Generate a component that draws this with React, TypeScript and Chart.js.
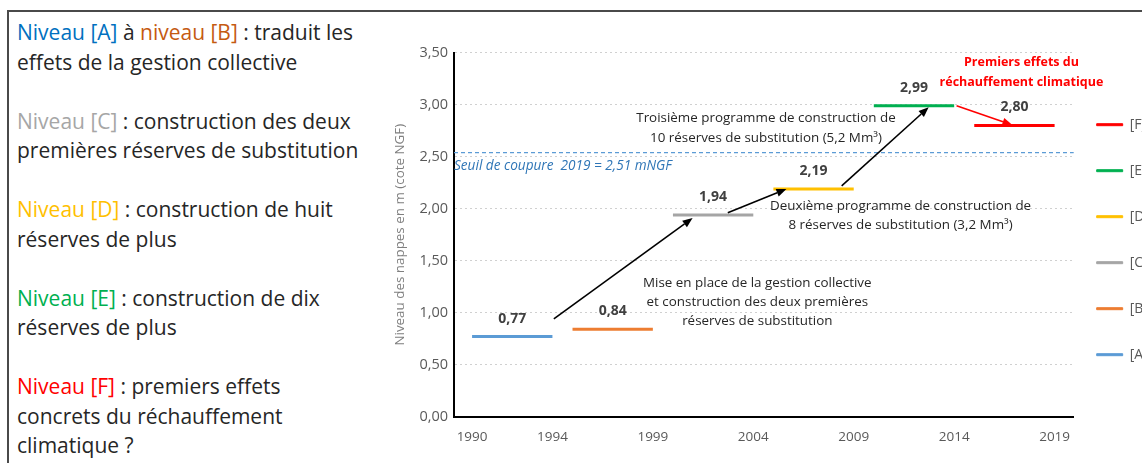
import React, { useEffect, useRef } from "react";
import { Chart, registerables } from "chart.js";

Chart.register(...registerables);

// ---------- data ----------
const levelNames = ["[A]", "[B]", "[C]", "[D]", "[E]", "[F]"];
const levelValues = [0.77, 0.84, 1.94, 2.19, 2.99, 2.8];
const startYears = [1990, 1995, 2000, 2005, 2010, 2015];
const endYears = [1994, 1999, 2004, 2009, 2014, 2019];
const levelColors = ["#5B9BD5", "#ED7D31", "#A5A5A5", "#FFC000", "#00B050", "#FF0000"];
const xTickYears = [1990, 1994, 1999, 2004, 2009, 2014, 2019];
const yMin = 0;
const yMax = 3.5;
const yStep = 0.5;
const xMin = 1989.1;
const xMax = 2019.95;

const seuilValue = 2.54;
const seuilLabel = "Seuil de coupure  2019 = 2,51 mNGF";

const arrowStartX = [1994.07, 2002.73, 2008.4, 2014.12];
const arrowStartY = [0.94, 1.96, 2.22, 2.99];
const arrowEndX = [2000.98, 2005.65, 2012.73, 2016.9];
const arrowEndY = [1.91, 2.19, 2.975, 2.805];
const arrowColors = ["#000000", "#000000", "#000000", "#FF0000"];

const noteLines = [
  ["Troisième programme de construction de", "10 réserves de substitution (5,2 Mm³)"],
  ["Deuxième programme de construction de", "8 réserves de substitution (3,2 Mm³)"],
  ["Mise en place de la gestion collective", "et construction des deux premières", "réserves de substitution"],
  ["Premiers effets du", "réchauffement climatique"],
];
const noteX = [2004.63, 2011.33, 2004.2, 2017.35];
const noteY = [2.872, 2.021, 1.283, 3.41];

const yTitle = "Niveau des nappes en m (cote NGF)";

// ---------- styles ----------
const FONT = "'Open Sans', sans-serif";
const noteStyles = [
  { font: `13.4px ${FONT}`, color: "#262626", lineGap: 20 },
  { font: `13.4px ${FONT}`, color: "#262626", lineGap: 19 },
  { font: `13.4px ${FONT}`, color: "#262626", lineGap: 19 },
  { font: `bold 12.5px ${FONT}`, color: "#FF0000", lineGap: 20 },
];

const fmt = (v: number) => v.toFixed(2).replace(".", ",");

// nudges the legend box closer to the plot and slightly lower
const legendShiftPlugin = {
  id: "legendShift",
  afterLayout(chart: any) {
    const lg = chart.legend;
    if (lg) {
      lg.left -= 9;
      lg.right -= 9;
      lg.top += 5;
      lg.bottom += 5;
    }
  },
};

const annotationPlugin = {
  id: "annotations",
  beforeDatasetsDraw(chart: any) {
    const { ctx, chartArea, scales } = chart;
    const yy = scales.y.getPixelForValue(seuilValue);
    ctx.save();
    ctx.strokeStyle = "#5B9BD5";
    ctx.lineWidth = 1.2;
    ctx.setLineDash([4, 3]);
    ctx.beginPath();
    ctx.moveTo(chartArea.left, yy);
    ctx.lineTo(chartArea.right, yy);
    ctx.stroke();
    ctx.restore();
  },
  afterDatasetsDraw(chart: any) {
    const { ctx, chartArea, scales } = chart;
    const x = scales.x;
    const y = scales.y;
    ctx.save();
    // seuil label
    ctx.font = `italic 13.6px ${FONT}`;
    ctx.fillStyle = "#2E75B6";
    ctx.textAlign = "left";
    ctx.textBaseline = "middle";
    ctx.fillText(seuilLabel, chartArea.left, y.getPixelForValue(seuilValue) + 13.5);

    // value labels
    ctx.font = `bold 14px ${FONT}`;
    ctx.fillStyle = "#404040";
    ctx.textAlign = "center";
    levelValues.forEach((v, i) => {
      const px = x.getPixelForValue((startYears[i] + endYears[i]) / 2);
      const py = y.getPixelForValue(v) - 18;
      ctx.fillText(fmt(v), px, py);
    });

    // arrows
    arrowStartX.forEach((sx, i) => {
      const x1 = x.getPixelForValue(sx);
      const y1 = y.getPixelForValue(arrowStartY[i]);
      const x2 = x.getPixelForValue(arrowEndX[i]);
      const y2 = y.getPixelForValue(arrowEndY[i]);
      const ang = Math.atan2(y2 - y1, x2 - x1);
      const hl = 10;
      const hw = 4;
      const bx = x2 - hl * Math.cos(ang);
      const by = y2 - hl * Math.sin(ang);
      ctx.strokeStyle = arrowColors[i];
      ctx.fillStyle = arrowColors[i];
      ctx.lineWidth = 1.6;
      ctx.beginPath();
      ctx.moveTo(x1, y1);
      ctx.lineTo(bx, by);
      ctx.stroke();
      ctx.beginPath();
      ctx.moveTo(x2, y2);
      ctx.lineTo(bx + hw * Math.sin(ang), by - hw * Math.cos(ang));
      ctx.lineTo(bx - hw * Math.sin(ang), by + hw * Math.cos(ang));
      ctx.closePath();
      ctx.fill();
    });

    // notes
    noteLines.forEach((lines, i) => {
      const st = noteStyles[i];
      ctx.font = st.font;
      ctx.fillStyle = st.color;
      ctx.textAlign = "center";
      ctx.textBaseline = "middle";
      const cx = x.getPixelForValue(noteX[i]);
      const cy = y.getPixelForValue(noteY[i]);
      lines.forEach((t, k) => ctx.fillText(t, cx, cy + k * st.lineGap));
    });
    ctx.restore();
  },
};

function ChartPanel() {
  const ref = useRef<HTMLCanvasElement | null>(null);
  useEffect(() => {
    if (!ref.current) return;
    const datasets = levelNames.map((name, i) => ({
      label: name,
      data: [
        { x: startYears[i], y: levelValues[i] },
        { x: endYears[i], y: levelValues[i] },
      ],
      borderColor: levelColors[i],
      backgroundColor: levelColors[i],
      borderWidth: 3,
      pointRadius: 0,
      fill: false,
    }));
    const chart = new Chart(ref.current, {
      type: "line",
      data: { datasets },
      plugins: [annotationPlugin, legendShiftPlugin],
      options: {
        animation: false,
        responsive: false,
        layout: { padding: { top: 52.7, bottom: 0, left: 0, right: 0 } },
        plugins: {
          tooltip: { enabled: false },
          legend: {
            position: "right",
            align: "center",
            fullSize: false,
            reverse: true,
            labels: {
              boxWidth: 26,
              boxHeight: 2,
              padding: 32,
              color: "#595959",
              font: { family: FONT, size: 14 },
              generateLabels: (c: any) => {
                const items = (Chart as any).defaults.plugins.legend.labels.generateLabels(c);
                items.forEach((it: any) => {
                  it.lineWidth = 1;
                  it.strokeStyle = it.fillStyle;
                });
                return items;
              },
            },
          },
        },
        scales: {
          x: {
            type: "linear",
            min: xMin,
            max: xMax,
            afterBuildTicks: (s: any) => {
              s.ticks = xTickYears.map((v) => ({ value: v }));
            },
            afterFit: (s: any) => {
              s.height = 463 - 416.7;
            },
            grid: { display: false, drawTicks: false },
            border: { display: true, color: "#000000", width: 2 },
            ticks: {
              padding: 12,
              color: "#595959",
              font: { family: FONT, size: 13.5 },
              callback: (v: any) => String(v),
              maxRotation: 0,
              autoSkip: false,
            },
          },
          y: {
            min: yMin,
            max: yMax,
            afterFit: (s: any) => {
              s.width = 74;
            },
            grid: { color: "#D0D0D0", drawTicks: false, lineWidth: 1 },
            border: { display: true, color: "#000000", width: 2, dash: [2, 3] },
            ticks: {
              stepSize: yStep,
              padding: 6,
              color: "#595959",
              font: { family: FONT, size: 14.5 },
              callback: (v: any) => fmt(Number(v)),
            },
            title: {
              display: true,
              text: yTitle,
              color: "#7F7F7F",
              font: { family: FONT, size: 13.4 },
              padding: { top: 12, bottom: 0 },
            },
          },
        },
      } as any,
    });
    return () => chart.destroy();
  }, []);
  return (
    <canvas
      ref={ref}
      width={788}
      height={463}
      style={{ position: "absolute", left: 380, top: 0, width: 788, height: 463 }}
    />
  );
}

const textColor = "#262626";
const cBlue = "#0070C0";
const cOrange = "#C55A11";
const cGray = "#A6A6A6";
const cYellow = "#FFC000";
const cGreen = "#00B050";
const cRed = "#FF0000";

export default function App() {
  const pStyle: React.CSSProperties = { margin: "0 0 29.5px 0" };
  return (
    <div
      style={{
        position: "fixed",
        left: 0,
        top: 0,
        width: 1142,
        height: 463,
        overflow: "hidden",
        background: "#ffffff",
      }}
    >
      <div
        style={{
          position: "absolute",
          left: 7,
          top: 9.5,
          width: 1300,
          height: 600,
          borderTop: "2px solid #4A4A4A",
          borderLeft: "2px solid #4A4A4A",
        }}
      />
      <div
        style={{
          position: "absolute",
          left: 17,
          top: 18.25,
          fontFamily: FONT,
          fontSize: 21,
          lineHeight: "29.5px",
          color: textColor,
          whiteSpace: "nowrap",
        }}
      >
        <p style={pStyle}>
          <span style={{ color: cBlue }}>Niveau [A]</span> à <span style={{ color: cOrange }}>niveau [B]</span> : traduit les
          <br />
          effets de la gestion collective
        </p>
        <p style={pStyle}>
          <span style={{ color: cGray }}>Niveau [C]</span> : construction des deux
          <br />
          premières réserves de substitution
        </p>
        <p style={pStyle}>
          <span style={{ color: cYellow }}>Niveau [D]</span> : construction de huit
          <br />
          réserves de plus
        </p>
        <p style={pStyle}>
          <span style={{ color: cGreen }}>Niveau [E]</span> : construction de dix
          <br />
          réserves de plus
        </p>
        <p style={pStyle}>
          <span style={{ color: cRed }}>Niveau [F]</span> : premiers effets
          <br />
          concrets du réchauffement
          <br />
          climatique ?
        </p>
      </div>
      <ChartPanel />
    </div>
  );
}
